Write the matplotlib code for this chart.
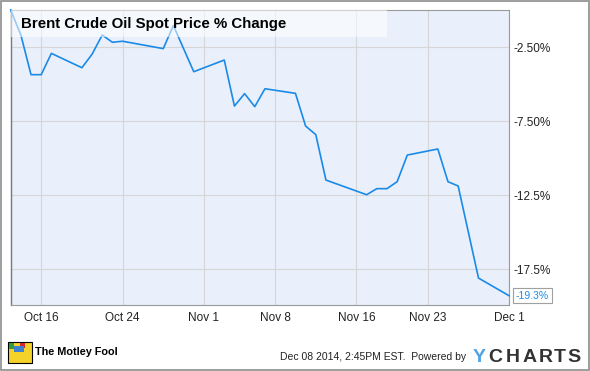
import matplotlib.pyplot as plt
import matplotlib.dates as mdates
from matplotlib.patches import Rectangle
import numpy as np

plt.rcParams['font.family'] = ['Liberation Sans', 'DejaVu Sans']

# Brent crude spot price, % change since Oct 13 2014
dates = ['2014-10-13', '2014-10-14', '2014-10-15', '2014-10-16', '2014-10-17',
         '2014-10-20', '2014-10-21', '2014-10-22', '2014-10-23', '2014-10-24',
         '2014-10-28', '2014-10-29', '2014-10-31',
         '2014-11-03', '2014-11-04', '2014-11-05', '2014-11-06', '2014-11-07',
         '2014-11-10', '2014-11-11', '2014-11-12', '2014-11-13',
         '2014-11-17', '2014-11-18', '2014-11-19', '2014-11-20', '2014-11-21',
         '2014-11-24', '2014-11-25', '2014-11-26', '2014-11-28', '2014-12-01']
pct_change = [0.0, -1.69, -4.37, -4.37, -2.93,
              -3.90, -2.99, -1.69, -2.18, -2.11,
              -2.61, -1.05, -4.17,
              -3.38, -6.49, -5.65, -6.53, -5.32,
              -5.63, -7.84, -8.42, -11.49,
              -12.48, -12.07, -12.07, -11.60, -9.80,
              -9.39, -11.60, -11.89, -18.11, -19.30]

tick_dates = ['2014-10-16', '2014-10-24', '2014-11-01', '2014-11-08',
              '2014-11-16', '2014-11-23', '2014-12-01']
tick_labels = ['Oct 16', 'Oct 24', 'Nov 1', 'Nov 8', 'Nov 16', 'Nov 23', 'Dec 1']
y_ticks = [-2.5, -7.5, -12.5, -17.5]
y_labels = ['-2.50%', '-7.50%', '-12.5%', '-17.5%']

x = mdates.datestr2num(dates)
xt = mdates.datestr2num(tick_dates)

W, H = 590, 371
fig = plt.figure(figsize=(W / 100, H / 100), dpi=100)
fig.patch.set_facecolor('white')

def fx(px):
    return px / W

def fy(py):
    return 1 - py / H

ax = fig.add_axes([fx(10.7), fy(305), fx(509) - fx(10.7), fy(10) - fy(305)])
ax.set_facecolor('#eaf0fb')

line_color = '#1a8ae8'
ax.plot(x, pct_change, color=line_color, lw=1.2, zorder=3, clip_on=False)

ax.set_xlim(x[0], x[-1])
ax.set_ylim(-19.93, 0)

ax.set_xticks(xt)
ax.set_xticklabels(tick_labels, fontsize=8.5, color='#222')
ax.set_yticks(y_ticks)
ax.set_yticklabels(y_labels, fontsize=8.5, color='#222')
ax.yaxis.tick_right()
ax.tick_params(axis='both', length=0)
ax.tick_params(axis='x', pad=5)
ax.tick_params(axis='y', pad=3)
ax.grid(True, color='#d6d6d6', lw=0.8, zorder=1)

for side in ['top', 'right', 'bottom']:
    ax.spines[side].set_color('#9a9a9a')
    ax.spines[side].set_linewidth(0.8)
ax.spines['left'].set_color('#777777')
ax.spines['left'].set_linewidth(1.0)

# title box over the plot (semi-transparent, line shows through lighter)
ax.add_patch(Rectangle((fx(11), fy(37)), fx(387) - fx(11), fy(10) - fy(37),
                       transform=fig.transFigure, facecolor='white', alpha=0.55,
                       edgecolor='none', zorder=4))
fig.text(fx(21), fy(24), 'Brent Crude Oil Spot Price % Change',
         fontsize=10.8, fontweight='bold', color='black', va='center', ha='left',
         zorder=5)

# last value flag
ax.annotate('-19.3%', xy=(x[-1], pct_change[-1]), xytext=(5, 0),
            textcoords='offset points', ha='left', va='center',
            fontsize=7.5, color=line_color, annotation_clip=False,
            bbox=dict(boxstyle='square,pad=0.25', fc='white', ec='#a0a0a0', lw=0.8))

# footer: Motley Fool mark
fig.patches.append(Rectangle((fx(8), fy(363)), fx(32) - fx(8), fy(342) - fy(363),
                             transform=fig.transFigure, facecolor='#f4d22a',
                             edgecolor='black', lw=0.8))
fig.patches.append(Rectangle((fx(9), fy(349)), fx(14) - fx(9), fy(343) - fy(349),
                             transform=fig.transFigure, facecolor='#2e9c3c', edgecolor='none'))
fig.patches.append(Rectangle((fx(20), fy(348)), fx(25) - fx(20), fy(343) - fy(348),
                             transform=fig.transFigure, facecolor='#d3262a', edgecolor='none'))
fig.patches.append(Rectangle((fx(14), fy(352)), fx(24) - fx(14), fy(346) - fy(352),
                             transform=fig.transFigure, facecolor='#3f7fd0', edgecolor='none'))
fig.text(fx(35), fy(352), 'The Motley Fool', fontsize=7.8, fontweight='bold',
         color='black', va='center', ha='left')

# footer: timestamp and YCharts
fig.text(fx(466), fy(357), 'Dec 08 2014, 2:45PM EST.  Powered by', fontsize=7.5,
         color='#222', va='center', ha='right')
brand = 'YCHARTS'
brand_x = [479, 495.5, 513, 529.5, 546, 560, 573.5]
for ch, px in zip(brand, brand_x):
    fig.text(fx(px), fy(357), ch, fontsize=14, fontweight='bold',
             color='#4da3ea' if ch == 'Y' else '#333333', va='center', ha='center')

# outer frame
fig.patches.append(Rectangle((fx(0.5), fy(369.5)), fx(588.5) - fx(0.5), fy(0.5) - fy(369.5),
                             transform=fig.transFigure, facecolor='none',
                             edgecolor='#8c8c8c', lw=1.2))

fig.savefig('out.png', dpi=100)
